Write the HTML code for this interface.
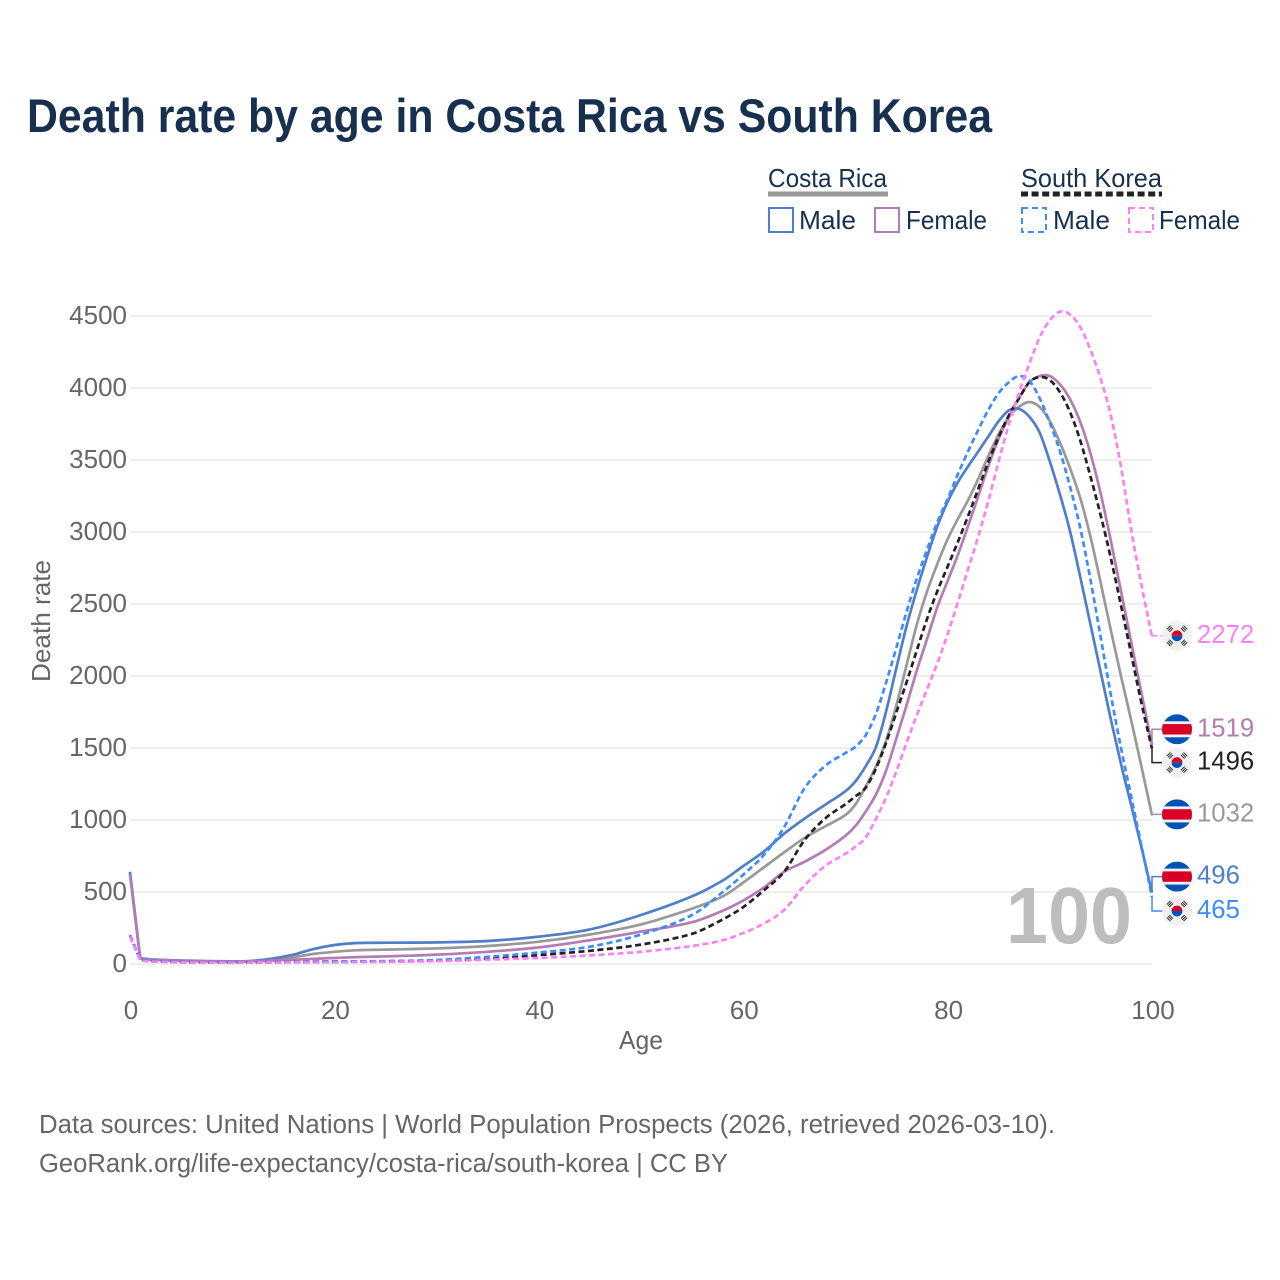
<!DOCTYPE html>
<html lang="en">
<head>
<meta charset="utf-8">
<title>Death rate by age in Costa Rica vs South Korea</title>
<style>
  html, body { margin: 0; padding: 0; background: #fff; }
  svg { display: block; font-family: "Liberation Sans", sans-serif; }
  .tick { fill: #666; font-size: 26px; }
  .legend { fill: #17304f; font-size: 26px; }
  .src { fill: #666; font-size: 25.5px; }
</style>
</head>
<body>
<svg id="chart" xmlns="http://www.w3.org/2000/svg" width="1280" height="1280" viewBox="0 0 1280 1280">
  <rect x="0" y="0" width="1280" height="1280" fill="#fff"/>
  <text x="27" y="132" font-size="47" font-weight="700" fill="#17304f" textLength="965" lengthAdjust="spacingAndGlyphs">Death rate by age in Costa Rica vs South Korea</text>

  <g>
    <text class="legend" x="768" y="187" textLength="119" lengthAdjust="spacingAndGlyphs">Costa Rica</text>
    <line x1="768" x2="888" y1="194" y2="194" stroke="#999" stroke-width="5"/>
    <text class="legend" x="1021" y="187" textLength="141" lengthAdjust="spacingAndGlyphs">South Korea</text>
    <line x1="1021" x2="1162" y1="194" y2="194" stroke="#222" stroke-width="5" stroke-dasharray="7 3.6"/>

    <rect x="769" y="208" width="24" height="24" fill="none" stroke="#4f7fc8" stroke-width="2"/>
    <text class="legend" x="799" y="229" textLength="57" lengthAdjust="spacingAndGlyphs">Male</text>
    <rect x="875" y="208" width="24" height="24" fill="none" stroke="#b57bb5" stroke-width="2"/>
    <text class="legend" x="906" y="229" textLength="81" lengthAdjust="spacingAndGlyphs">Female</text>
    <rect x="1022" y="208" width="24" height="24" fill="none" stroke="#3d8bfd" stroke-width="2" stroke-dasharray="6 4"/>
    <text class="legend" x="1053" y="229" textLength="57" lengthAdjust="spacingAndGlyphs">Male</text>
    <rect x="1129" y="208" width="24" height="24" fill="none" stroke="#ff80f5" stroke-width="2" stroke-dasharray="6 4"/>
    <text class="legend" x="1159" y="229" textLength="81" lengthAdjust="spacingAndGlyphs">Female</text>
  </g>

  <g id="grid"></g>
  <text x="1006" y="943" font-size="80" font-weight="700" fill="#bdbdbd" textLength="126" lengthAdjust="spacingAndGlyphs">100</text>
  <g id="yticks"></g>
  <g id="xticks"></g>
  <text class="tick" x="641" y="1049" text-anchor="middle" textLength="44" lengthAdjust="spacingAndGlyphs">Age</text>
  <text class="tick" transform="translate(50,621) rotate(-90)" text-anchor="middle" textLength="122" lengthAdjust="spacingAndGlyphs">Death rate</text>
  <g id="series"></g>
  <g id="ends"></g>

  <text class="src" x="39" y="1133" textLength="1016" lengthAdjust="spacingAndGlyphs">Data sources: United Nations | World Population Prospects (2026, retrieved 2026-03-10).</text>
  <text class="src" x="39" y="1172" textLength="689" lengthAdjust="spacingAndGlyphs">GeoRank.org/life-expectancy/costa-rica/south-korea | CC BY</text>
</svg>
<script>
const yTickValues = [0, 500, 1000, 1500, 2000, 2500, 3000, 3500, 4000, 4500];
const xTickValues = [0, 20, 40, 60, 80, 100];
const ages = [0,1,2,5,10,12,14,16,18,20,22,25,30,35,40,45,50,55,58,60,62,64,66,68,70,71,72,73,74,75,76,77,78,79,80,81,82,83,84,85,86,87,88,89,90,91,92,93,94,95,96,97,98,99,100];
const costaRicaBoth = [630,38,30,22,17,20,30,48,70,85,95,100,108,125,155,205,275,385,470,565,670,775,875,955,1035,1110,1235,1375,1556,1800,2080,2360,2590,2780,2950,3090,3220,3370,3530,3680,3800,3870,3903,3868,3770,3620,3440,3230,2960,2640,2310,1990,1680,1360,1032];
const costaRicaMale = [640,40,32,24,18,22,38,65,105,132,145,148,150,160,190,240,340,470,580,680,780,905,1010,1105,1200,1270,1375,1510,1760,2060,2350,2600,2830,3040,3210,3345,3455,3560,3665,3770,3845,3855,3800,3690,3490,3260,3000,2680,2350,2020,1690,1380,1090,800,496];
const costaRicaFemale = [620,38,30,22,16,18,24,30,36,42,48,53,65,85,115,165,225,290,370,440,530,640,710,790,890,960,1060,1180,1347,1570,1800,2040,2260,2480,2660,2840,3040,3250,3460,3650,3800,3930,4040,4083,4083,4025,3920,3760,3540,3260,2930,2580,2220,1870,1519];
const southKoreaBoth = [200,28,20,13,10,11,12,14,16,17,18,19,24,38,62,92,135,210,310,395,510,640,860,1010,1110,1165,1225,1360,1540,1750,1960,2180,2400,2590,2760,2930,3110,3300,3490,3660,3810,3930,4040,4076,4055,3970,3830,3630,3380,3110,2810,2480,2140,1800,1496];
const southKoreaMale = [200,30,22,14,11,12,13,14,16,18,19,20,28,50,80,120,205,340,500,620,755,950,1220,1375,1465,1510,1590,1740,1960,2200,2450,2680,2880,3070,3230,3400,3560,3710,3850,3965,4040,4083,4050,3930,3760,3560,3310,3020,2660,2260,1860,1490,1150,810,465];
const southKoreaFemale = [190,25,17,11,9,9,10,11,11,12,13,15,20,30,42,60,85,125,165,215,280,375,545,680,765,815,880,1010,1160,1340,1540,1730,1910,2090,2290,2510,2740,2970,3220,3490,3750,3970,4170,4350,4470,4530,4510,4420,4260,4060,3800,3440,3000,2620,2272];

const seriesStyles = [
  { name: 'costa-rica-both', values: costaRicaBoth, color: '#999999', dash: '', connDash: '', labelDy: -1, flag: 'cr' },
  { name: 'costa-rica-male', values: costaRicaMale, color: '#4f7fc8', dash: '', connDash: '', labelDy: -16, flag: 'cr' },
  { name: 'costa-rica-female', values: costaRicaFemale, color: '#b57bb5', dash: '', connDash: '', labelDy: -16, flag: 'cr' },
  { name: 'south-korea-both', values: southKoreaBoth, color: '#222222', dash: '6 3.5', connDash: '', labelDy: 14, flag: 'kr' },
  { name: 'south-korea-male', values: southKoreaMale, color: '#3d8bfd', dash: '6 3.5', connDash: '', labelDy: 14, flag: 'kr' },
  { name: 'south-korea-female', values: southKoreaFemale, color: '#ff80f5', dash: '6 3.5', connDash: '6 3.5', labelDy: -1, flag: 'kr' }
];

const NS = 'http://www.w3.org/2000/svg';
const xScale = a => 130 + a * 10.22;
const yScale = v => 964 - v * 0.144;

function mk(tag, parent, attrs) {
  const el = document.createElementNS(NS, tag);
  for (const k in attrs) el.setAttribute(k, attrs[k]);
  parent.appendChild(el);
  return el;
}

function linePath(xs, ys) {
  let d = 'M' + xs[0].toFixed(1) + ' ' + ys[0].toFixed(1) + 'L' + xs[1].toFixed(1) + ' ' + ys[1].toFixed(1) + 'L' + xs[2].toFixed(1) + ' ' + ys[2].toFixed(1);
  for (let i = 2; i < xs.length - 1; i++) {
    const p0 = Math.max(i - 1, 2), p3 = Math.min(i + 2, xs.length - 1);
    const h = xs[i + 1] - xs[i];
    const m1 = (ys[i + 1] - ys[p0]) / (xs[i + 1] - xs[p0]);
    const m2 = (ys[p3] - ys[i]) / (xs[p3] - xs[i]);
    d += 'C' + (xs[i] + h / 3).toFixed(1) + ' ' + (ys[i] + m1 * h / 3).toFixed(1) + ' ' +
         (xs[i + 1] - h / 3).toFixed(1) + ' ' + (ys[i + 1] - m2 * h / 3).toFixed(1) + ' ' +
         xs[i + 1].toFixed(1) + ' ' + ys[i + 1].toFixed(1);
  }
  return d;
}

const grid = document.getElementById('grid');
const yt = document.getElementById('yticks');
const xt = document.getElementById('xticks');

yTickValues.forEach(v => {
  const line = mk('line', grid, { x1: 130, x2: 1152, y1: yScale(v), y2: yScale(v), stroke: '#eeeeee', 'stroke-width': 2 });
  
  
  const t = mk('text', yt, { x: 127, y: yScale(v) + 8, 'text-anchor': 'end', class: 'tick' });
  
  
  t.textContent = v;
});

xTickValues.forEach(a => {
  const t = mk('text', xt, { x: xScale(a) + 1, y: 1019, 'text-anchor': 'middle', class: 'tick' });
  
  
  t.textContent = a;
});

const seriesG = document.getElementById('series');
const endsG = document.getElementById('ends');
const defs = mk('defs', document.getElementById('chart'), {});
const clip = mk('clipPath', defs, { id: 'flag-clip' });
mk('circle', clip, { cx: 0, cy: 0, r: 15 });

function drawCR(g) {
  const inner = mk('g', g, { 'clip-path': 'url(#flag-clip)' });
  mk('rect', inner, { x: -15, y: -15, width: 30, height: 30, fill: '#0052b4' });
  mk('rect', inner, { x: -15, y: -8, width: 30, height: 16, fill: '#f0f0f0' });
  mk('rect', inner, { x: -15, y: -5.2, width: 30, height: 10.4, fill: '#d80027' });
}

function drawKR(g) {
  mk('circle', g, { cx: 0, cy: 0, r: 15, fill: '#f0f0f0' });
  mk('path', g, { d: 'M-5.4 0A5.4 5.4 0 0 1 5.4 0Z', fill: '#d80027' });
  mk('path', g, { d: 'M-5.4 0A5.4 5.4 0 0 0 5.4 0Z', fill: '#0052b4' });
  [45, 135, 225, 315].forEach(r => {
    const tg = mk('g', g, { transform: 'rotate(' + r + ') translate(0,-10)' });
    [-1.8, 0, 1.8].forEach(o => {
      mk('rect', tg, { x: -2.6, y: o - 0.5, width: 5.2, height: 1, fill: '#333' });
    });
  });
}

seriesStyles.forEach(s => {
  const xs = ages.map(xScale);
  const ys = s.values.map(yScale);
  const path = mk('path', seriesG, { d: linePath(xs, ys), fill: 'none', stroke: s.color, 'stroke-width': 2.7, 'stroke-linejoin': 'round' });
  if (s.dash) path.setAttribute('stroke-dasharray', s.dash);
  
  
});

seriesStyles.forEach(s => {
  const last = s.values[s.values.length - 1];
  const yEnd = yScale(last);
  const yLabel = yEnd + s.labelDy;
  const conn = mk('path', endsG, { d: 'M1152 ' + yEnd.toFixed(1) + 'V' + yLabel.toFixed(1) + 'H1163', fill: 'none', stroke: s.color, 'stroke-width': 1.5 });
  if (s.connDash) conn.setAttribute('stroke-dasharray', s.connDash);
  
  
  const flag = mk('g', endsG, { transform: 'translate(1177,' + yLabel.toFixed(1) + ')' });
  
  
  if (s.flag === 'cr') drawCR(flag); else drawKR(flag);
  const label = String(last);
  const t = mk('text', endsG, { x: 1197, y: yLabel + 7, fill: s.color, 'font-size': 25.5, textLength: label.length * 14.3, lengthAdjust: 'spacingAndGlyphs' });
  
  
  t.textContent = label;
});
</script>
</body>
</html>
